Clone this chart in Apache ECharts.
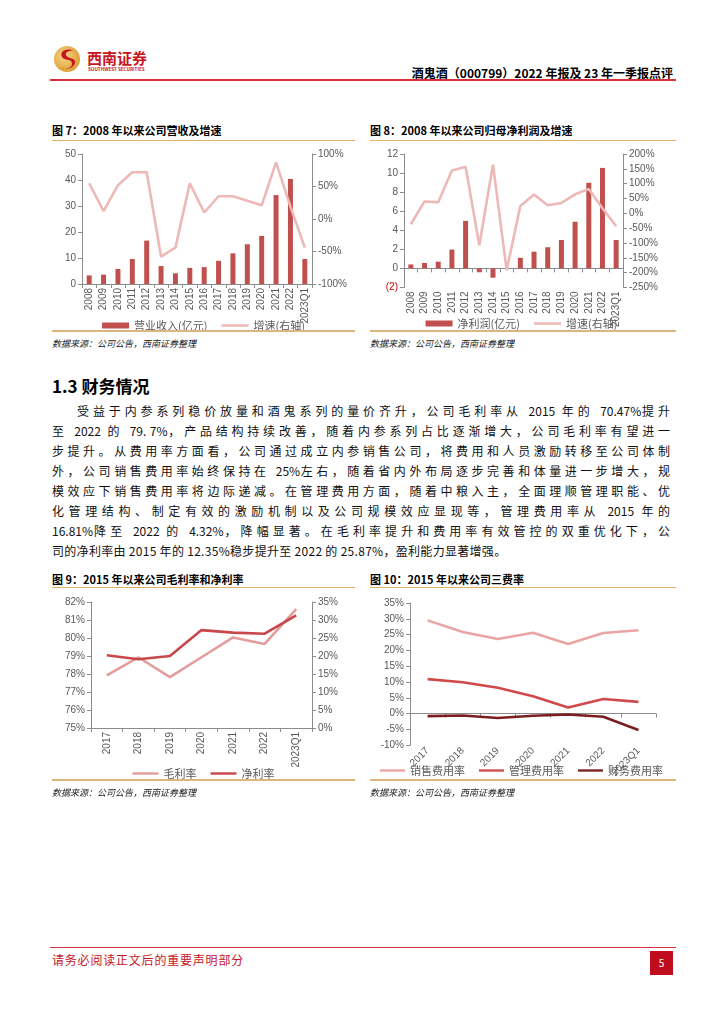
<!DOCTYPE html>
<html><head><meta charset="utf-8">
<script src="https://cdn.jsdelivr.net/npm/echarts@6/dist/echarts.min.js"></script>
<style>
html,body{margin:0;padding:0;background:#fff;}
#page{position:relative;width:724px;height:1024px;overflow:hidden;font-family:"Noto Sans CJK SC","Noto Sans",sans-serif;color:#000;}
.abs{position:absolute;}
.ftitle{font-size:11px;font-weight:bold;white-space:nowrap;}
.src{font-size:9px;font-style:italic;white-space:nowrap;color:#222;}
.oline{height:1px;background:#E3B06A;}
.oline2{height:2px;background:#DDB57F;}
.para div{position:absolute;left:52px;width:621px;font-size:12px;line-height:18px;letter-spacing:3px;text-align:justify;text-align-last:justify;white-space:nowrap;color:#111;}
.para span{letter-spacing:0;}
.chart{position:absolute;}
</style></head>
<body><div id="page">
<!-- header -->
<svg class="abs" style="left:53px;top:45px" width="28" height="28" viewBox="0 0 28 28">
 <defs><radialGradient id="g" cx="40%" cy="40%" r="70%"><stop offset="0" stop-color="#F6D58A"/><stop offset="1" stop-color="#D99A2B"/></radialGradient></defs>
 <circle cx="14" cy="14" r="13" fill="url(#g)"/>
 <path d="M21 6 C14 2,6 6,9 12 C11 16,18 13,19 18 C20 23,12 25,7 22 C11 25,22 24,22 17 C22 12,14 14,13 10 C12 7,17 5,21 6 Z" fill="#C8161D"/>
</svg>
<div class="abs" style="left:87px;top:47px;font-size:15px;font-weight:bold;color:#C8161D;">西南证券</div>
<div class="abs" style="left:88px;top:66px;font-size:4.6px;font-weight:bold;color:#C8161D;white-space:nowrap;">SOUTHWEST SECURITIES</div>
<div class="abs" style="right:51px;top:64px;font-size:12px;font-weight:bold;white-space:nowrap;">酒鬼酒（000799）2022 年报及 23 年一季报点评</div>
<div class="abs" style="left:50px;top:79px;width:626px;height:2px;background:#D4313B;"></div>

<!-- fig 7 / 8 titles -->
<div class="abs ftitle" style="left:52px;top:122px;">图 7：2008 年以来公司营收及增速</div>
<div class="abs oline" style="left:52px;top:140px;width:303px;"></div>
<div class="abs ftitle" style="left:370px;top:122px;">图 8：2008 年以来公司归母净利润及增速</div>
<div class="abs oline" style="left:370px;top:140px;width:306px;"></div>
<div id="c7" class="chart" style="left:52px;top:145px;width:303px;height:185px;"></div>
<div id="c8" class="chart" style="left:367px;top:145px;width:309px;height:185px;"></div>
<div class="abs oline2" style="left:52px;top:330px;width:303px;"></div>
<div class="abs oline2" style="left:370px;top:330px;width:306px;"></div>
<div class="abs src" style="left:52px;top:337px;">数据来源：公司公告，西南证券整理</div>
<div class="abs src" style="left:370px;top:337px;">数据来源：公司公告，西南证券整理</div>

<!-- section -->
<div class="abs" style="left:52px;top:373px;font-size:17px;font-weight:bold;white-space:nowrap;">1.3 财务情况</div>
<div class="para">
<div style="top:402px;left:77px;width:596px;">受益于内参系列稳价放量和酒鬼系列的量价齐升，公司毛利率从 <span>2015</span> 年的 <span>70.47%</span>提升</div>
<div style="top:422px;">至 <span>2022</span> 的 <span>79. 7%</span>，产品结构持续改善，随着内参系列占比逐渐增大，公司毛利率有望进一</div>
<div style="top:442px;">步提升。从费用率方面看，公司通过成立内参销售公司，将费用和人员激励转移至公司体制</div>
<div style="top:462px;">外，公司销售费用率始终保持在 <span>25%</span>左右，随着省内外布局逐步完善和体量进一步增大，规</div>
<div style="top:482px;">模效应下销售费用率将边际递减。在管理费用方面，随着中粮入主，全面理顺管理职能、优</div>
<div style="top:502px;">化管理结构、制定有效的激励机制以及公司规模效应显现等，管理费用率从 <span>2015</span> 年的</div>
<div style="top:522px;"><span>16.81%</span>降至 <span>2022</span> 的 <span>4.32%</span>，降幅显著。在毛利率提升和费用率有效管控的双重优化下，公</div>
<div style="top:542px;text-align:left;text-align-last:left;width:auto;letter-spacing:0.3px;">司的净利率由 2015 年的 12.35%稳步提升至 2022 的 25.87%，盈利能力显著增强。</div>
</div>

<!-- fig 9 / 10 -->
<div class="abs ftitle" style="left:52px;top:571px;">图 9：2015 年以来公司毛利率和净利率</div>
<div class="abs oline" style="left:52px;top:587px;width:303px;"></div>
<div class="abs ftitle" style="left:370px;top:571px;">图 10：2015 年以来公司三费率</div>
<div class="abs oline" style="left:370px;top:587px;width:306px;"></div>
<div id="c9" class="chart" style="left:52px;top:590px;width:303px;height:190px;"></div>
<div id="c10" class="chart" style="left:367px;top:590px;width:309px;height:190px;"></div>
<div class="abs oline2" style="left:52px;top:779px;width:303px;"></div>
<div class="abs oline2" style="left:370px;top:779px;width:306px;"></div>
<div class="abs src" style="left:52px;top:786px;">数据来源：公司公告，西南证券整理</div>
<div class="abs src" style="left:370px;top:786px;">数据来源：公司公告，西南证券整理</div>

<!-- footer -->
<div class="abs" style="left:50px;top:947px;width:626px;height:1px;background:#D4313B;"></div>
<div class="abs" style="left:52px;top:951px;font-size:12px;color:#C8161D;letter-spacing:0.8px;white-space:nowrap;">请务必阅读正文后的重要声明部分</div>
<div class="abs" style="left:650px;top:951px;width:23px;height:24px;background:#C00D1E;color:#fff;font-size:10px;text-align:center;line-height:24px;">5</div>
</div>

<script>
// ---------- data ----------
const years = ['2008','2009','2010','2011','2012','2013','2014','2015','2016','2017','2018','2019','2020','2021','2022','2023Q1'];
const revenue = [3.3,3.6,5.8,9.6,16.7,6.9,4.1,6.2,6.5,8.9,11.8,15.3,18.5,34.2,40.4,9.6];
const revenueGrowth = [55,12,52,72,72,-58,-44,55,10,35,35,28,21,87,19,-44];
const netProfit = [0.41,0.57,0.70,1.97,4.98,-0.41,-0.98,0,1.11,1.75,2.22,2.98,4.89,8.98,10.54,2.98];
const profitGrowth = [-37,40,37,144,157,-108,164,-192,25,63,27,35,64,82,17,-44];

const years2 = ['2017','2018','2019','2020','2021','2022','2023Q1'];
const grossMargin = [77.92,78.93,77.83,78.93,80.03,79.67,81.6];
const netMargin = [20.2,19.1,20.0,27.2,26.5,26.2,31.3];

const salesRate = [29.5,25.8,23.6,25.6,22.0,25.5,26.4];
const adminRate = [10.9,9.9,8.2,5.5,1.9,4.6,3.7];
const finRate = [-0.8,-0.6,-1.4,-0.7,-0.3,-1.0,-5.2];

// ---------- style ----------
const AX = '#8C8C8C', LBL = '#595959', FONT = 'Liberation Sans, Arial, sans-serif';
const CJK = 'Noto Sans CJK SC, sans-serif';
const RED = '#C0504D', PINK = '#EDB9B6';
const LINE_ICON = 'path://M0,0M0,1.6L30,1.6L30,4.4L0,4.4ZM0,6';
function valAxis(min,max,interval,fmt,extra){
  return Object.assign({type:'value',min:min,max:max,interval:interval,
    axisLine:{show:true,lineStyle:{color:AX}},axisTick:{show:true,length:4,lineStyle:{color:AX}},
    splitLine:{show:false},
    axisLabel:{color:LBL,fontSize:10,fontFamily:FONT,margin:6,formatter:fmt}},extra||{});
}
function catAxis(data,rotate,extra){
  return Object.assign({type:'category',data:data,boundaryGap:true,
    axisLine:{show:true,lineStyle:{color:AX}},axisTick:{show:true,length:4,lineStyle:{color:AX}},
    axisLabel:{color:LBL,fontSize:10,fontFamily:FONT,rotate:rotate,margin:4,interval:0}},extra||{});
}
function legend(top,items,w){
  return {top:top,left:'center',itemWidth:w||27,itemHeight:6,itemGap:14,
    textStyle:{color:LBL,fontSize:11,fontFamily:CJK},data:items};
}
function li(name){return {name:name,icon:LINE_ICON};}

// fig 7
echarts.init(document.getElementById('c7')).setOption({
  animation:false,
  grid:{left:30,right:43,top:9,bottom:46},
  xAxis:catAxis(years,90),
  yAxis:[valAxis(0,50,10,'{value}'),valAxis(-100,100,50,'{value}%')],
  legend:legend(170,[{name:'营业收入(亿元)',icon:'rect'},li('增速(右轴)')]),
  series:[
    {name:'营业收入(亿元)',type:'bar',data:revenue,barWidth:5,itemStyle:{color:RED}},
    {name:'增速(右轴)',type:'line',yAxisIndex:1,data:revenueGrowth,symbol:'none',lineStyle:{color:PINK,width:2.6},itemStyle:{color:PINK}}
  ]
});

// fig 8
echarts.init(document.getElementById('c8')).setOption({
  animation:false,
  grid:{left:37,right:53,top:9,bottom:28},
  xAxis:catAxis(years,90,{axisLine:{show:true,onZero:true,onZeroAxisIndex:0,lineStyle:{color:AX}}}),
  yAxis:[valAxis(-2,12,2,null,
           {axisLabel:{fontSize:10,fontFamily:FONT,margin:6,formatter:function(v){return v<0?'('+(-v)+')':String(v);},
             color:function(v){return Number(v)<0?'#E00000':LBL;}}}),
         valAxis(-250,200,50,'{value}%')],
  legend:legend(168,[{name:'净利润(亿元)',icon:'rect'},li('增速(右轴)')]),
  series:[
    {name:'净利润(亿元)',type:'bar',data:netProfit,barWidth:5,itemStyle:{color:RED}},
    {name:'增速(右轴)',type:'line',yAxisIndex:1,data:profitGrowth,symbol:'none',lineStyle:{color:PINK,width:2.6},itemStyle:{color:PINK}}
  ]
});

// fig 9
echarts.init(document.getElementById('c9')).setOption({
  animation:false,
  grid:{left:39,right:43,top:12,bottom:52},
  xAxis:catAxis(years2,90),
  yAxis:[valAxis(75,82,1,'{value}%'),valAxis(0,35,5,'{value}%')],
  legend:legend(173,[li('毛利率'),li('净利率')],26),
  series:[
    {name:'毛利率',type:'line',data:grossMargin,symbol:'none',lineStyle:{color:'#E39C9B',width:2.6},itemStyle:{color:'#E39C9B'}},
    {name:'净利率',type:'line',yAxisIndex:1,data:netMargin,symbol:'none',lineStyle:{color:'#C8474A',width:2.6},itemStyle:{color:'#C8474A'}}
  ]
});

// fig 10
echarts.init(document.getElementById('c10')).setOption({
  animation:false,
  grid:{left:43,right:20,top:13,bottom:22},
  xAxis:catAxis(years2,45,{axisLine:{show:true,onZero:true,lineStyle:{color:AX}}}),
  yAxis:valAxis(-10,35,5,'{value}%'),
  legend:legend(170,[li('销售费用率'),li('管理费用率'),li('财务费用率')],25),
  series:[
    {name:'销售费用率',type:'line',data:salesRate,symbol:'none',lineStyle:{color:'#E8A5A4',width:2.6},itemStyle:{color:'#E8A5A4'}},
    {name:'管理费用率',type:'line',data:adminRate,symbol:'none',lineStyle:{color:'#D04A4C',width:2.6},itemStyle:{color:'#D04A4C'}},
    {name:'财务费用率',type:'line',data:finRate,symbol:'none',lineStyle:{color:'#7A1E22',width:2.6},itemStyle:{color:'#7A1E22'}}
  ]
});
</script>
</body></html>
